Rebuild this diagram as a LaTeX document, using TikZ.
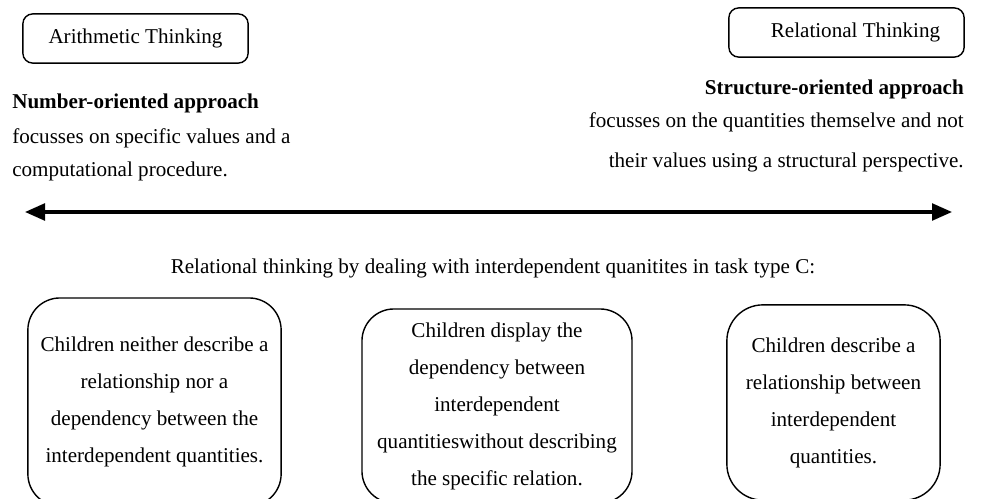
\documentclass[tikz,border=0pt]{standalone}
\usepackage{fontspec}
\setmainfont{Liberation Serif}
\usetikzlibrary{arrows.meta,positioning}

\begin{document}
\begin{tikzpicture}[x=0.025cm,y=-0.025cm,>=Triangle,node distance=0.2cm]
  \tikzstyle{pole}=[draw,rounded corners=7pt,line width=1pt,minimum height=1.23cm,font=\fontsize{15}{18}\selectfont]
  \tikzstyle{txt}=[inner sep=0pt,font=\fontsize{15}{18}\selectfont]
  \tikzstyle{task}=[draw,rounded corners=0.8cm,line width=1pt,align=center,font=\fontsize{15}{26.3}\selectfont]
  \useasboundingbox (0,0) rectangle (982,499);
  \clip (0,0) rectangle (982,499);
  % the two poles
  \node[pole,minimum width=5.63cm] (arith) at (135.5,38.5) {Arithmetic Thinking\hspace{0.35cm}};
  \node[pole,minimum width=5.88cm] (rel) at (846.5,32.5) {\hspace{0.45cm}Relational Thinking};
  % left description
  \node[txt,anchor=base west,font=\fontsize{15}{18}\selectfont\bfseries] (numb) at (12,109) {Number-oriented approach};
  \node[txt,anchor=base west] (numb1) at (12,144) {focusses on specific values and a};
  \node[txt,anchor=base west] (numb2) at (12,176) {computational procedure.};
  % right description
  \node[txt,anchor=base east,font=\fontsize{15}{18}\selectfont\bfseries] (struc) at (964,95) {Structure-oriented approach};
  \node[txt,anchor=base east] (struc1) at (964,128) {focusses on the quantities themselve and not};
  \node[txt,anchor=base east] (struc2) at (964,168) {their values using a structural perspective.};
  % continuum
  \coordinate (lend) at (25,212);
  \coordinate (rend) at (952,212);
  \draw[line width=2.2pt,{Triangle[length=0.5cm,width=0.42cm]}-{Triangle[length=0.5cm,width=0.42cm]}] (lend) -- (rend);
  \node[txt] (cap) at (493,268) {Relational thinking by dealing with interdependent quanitites in task type C:};
  % task type C categories
  \node[task,minimum width=6.33cm,minimum height=5.2cm] (none) at (154.5,402) {Children neither describe a\\relationship nor a\\dependency between the\\interdependent quantities.};
  \node[task,minimum width=6.75cm,minimum height=4.85cm] (dep) at (497,406) {Children display the\\dependency between\\interdependent\\quantitieswithout describing\\the specific relation.};
  \node[task,minimum width=5.33cm,minimum height=4.88cm,rounded corners=0.9cm] (relat) at (833.5,402.5) {Children describe a\\relationship between\\interdependent\\quantities.};
\end{tikzpicture}
\end{document}
